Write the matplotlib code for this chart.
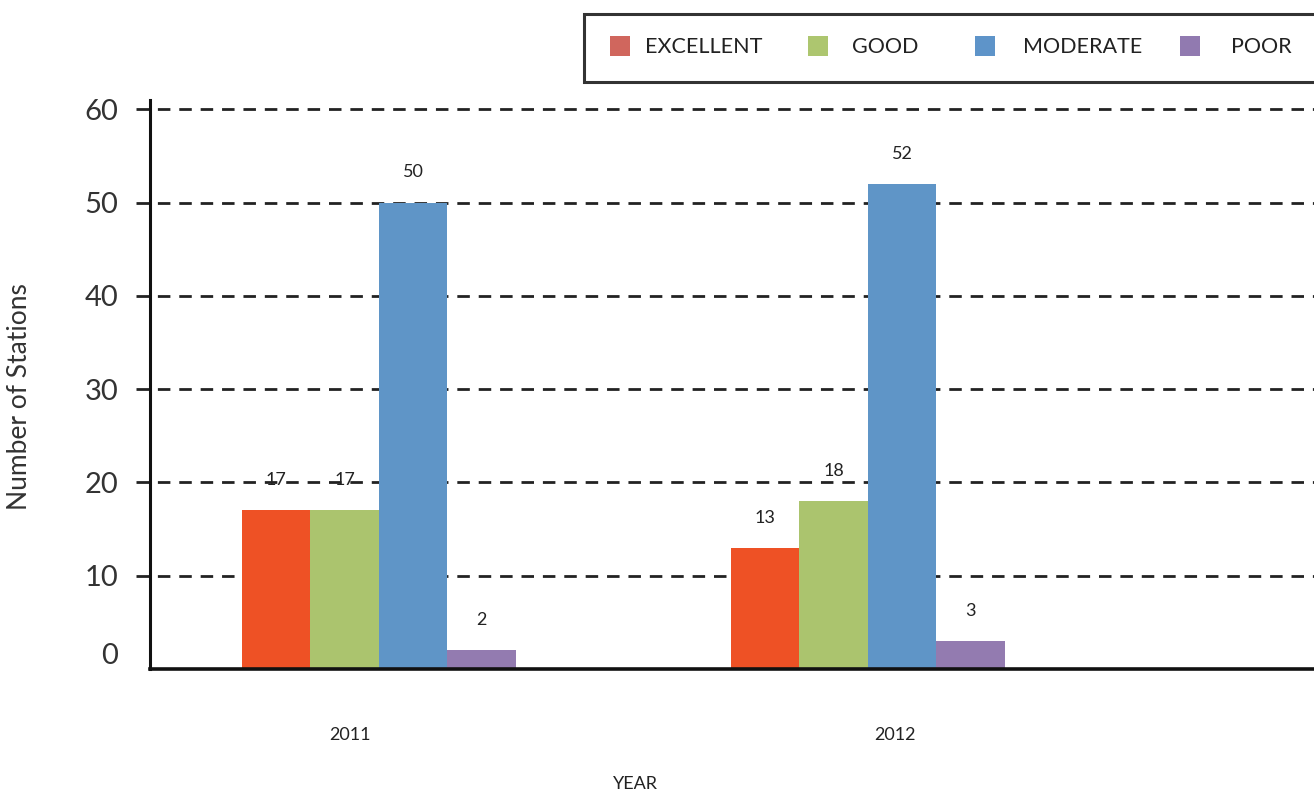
import numpy as np
import matplotlib
matplotlib.use("Agg")
import matplotlib.pyplot as plt
from matplotlib.patches import Rectangle

# ---- data ----
years = ["2011", "2012"]
categories = ["EXCELLENT", "GOOD", "MODERATE", "POOR"]
excellent = [17, 13]
good = [17, 18]
moderate = [50, 52]
poor = [2, 3]
series = [excellent, good, moderate, poor]
yticks = [0, 10, 20, 30, 40, 50, 60]

bar_colors = ["#EE5125", "#ABC46E", "#5F95C7", "#937BB0"]
legend_colors = ["#D0665D", "#ADC66F", "#5E94C9", "#917AB0"]

plt.rcParams['font.family'] = ['Lato', 'DejaVu Sans']

W, H = 1314, 793
fig = plt.figure(figsize=(W / 100, H / 100), dpi=100)
ax = fig.add_axes([150 / W, 1 - 669 / H, (W - 150) / W, (669 - 100) / H])

x = np.arange(len(years))
bw = 0.14
offsets = (np.arange(len(categories)) - 1.5) * bw

for k, (vals, col) in enumerate(zip(series, bar_colors)):
    bars = ax.bar(x + offsets[k], vals, width=bw, color=col, zorder=3, linewidth=0)
    for b, v in zip(bars, vals):
        ax.annotate(str(v), (b.get_x() + b.get_width() / 2, v), xytext=(0, 16),
                    textcoords="offset points", ha="center", va="bottom",
                    fontsize=13, color="#222222")

ax.set_xlim(-0.468, 1.912)
ax.set_ylim(0, 61)

# dashed grid lines extending slightly left of the axis
for t in yticks[1:]:
    ax.axhline(t, xmin=-0.012, xmax=1, color="#222222", linewidth=2,
               linestyle=(0, (4.5, 3.2)), zorder=1, clip_on=False)

ax.set_yticks(yticks)
ax.set_yticklabels([str(t) for t in yticks])
ax.tick_params(axis="y", length=0, pad=23, labelsize=21, labelcolor="#333333")
ax.get_yticklabels()[0].set_va("bottom")
ax.set_xticks(x + np.array([-0.06, 0.055]))
ax.set_xticklabels(years)
ax.tick_params(axis="x", length=0, pad=42, labelsize=13, labelcolor="#222222")

for s in ["top", "right"]:
    ax.spines[s].set_visible(False)
ax.spines["left"].set_linewidth(2.2)
ax.spines["left"].set_color("#111111")
ax.spines["bottom"].set_linewidth(2.6)
ax.spines["bottom"].set_color("#111111")
ax.spines["bottom"].set_zorder(4)

ax.set_ylabel("Number of Stations", fontsize=19, color="#333333")
ax.yaxis.set_label_coords(-0.101, 0.478)
ax.set_xlabel("YEAR", fontsize=13, color="#222222")
ax.xaxis.set_label_coords(0.417, -0.188)

# ---- legend (boxed, running off the right edge like the reference) ----
fig.patches.append(Rectangle((584 / W, 1 - 82 / H), (W + 20 - 584) / W, 68 / H,
                             transform=fig.transFigure, facecolor="white",
                             edgecolor="#333333", linewidth=2.2, zorder=5))
handle_px = [610, 808, 975, 1180]
text_px = [645, 852, 1023, 1231]
for lab, col, hx, tx in zip(categories, legend_colors, handle_px, text_px):
    fig.patches.append(Rectangle((hx / W, 1 - 56 / H), 20 / W, 20 / H,
                                 transform=fig.transFigure, facecolor=col,
                                 edgecolor="none", zorder=6))
    fig.text(tx / W, 1 - 47 / H, lab, fontsize=15.5, color="#222222",
             ha="left", va="center", zorder=7)

fig.savefig("out.png", dpi=100)
